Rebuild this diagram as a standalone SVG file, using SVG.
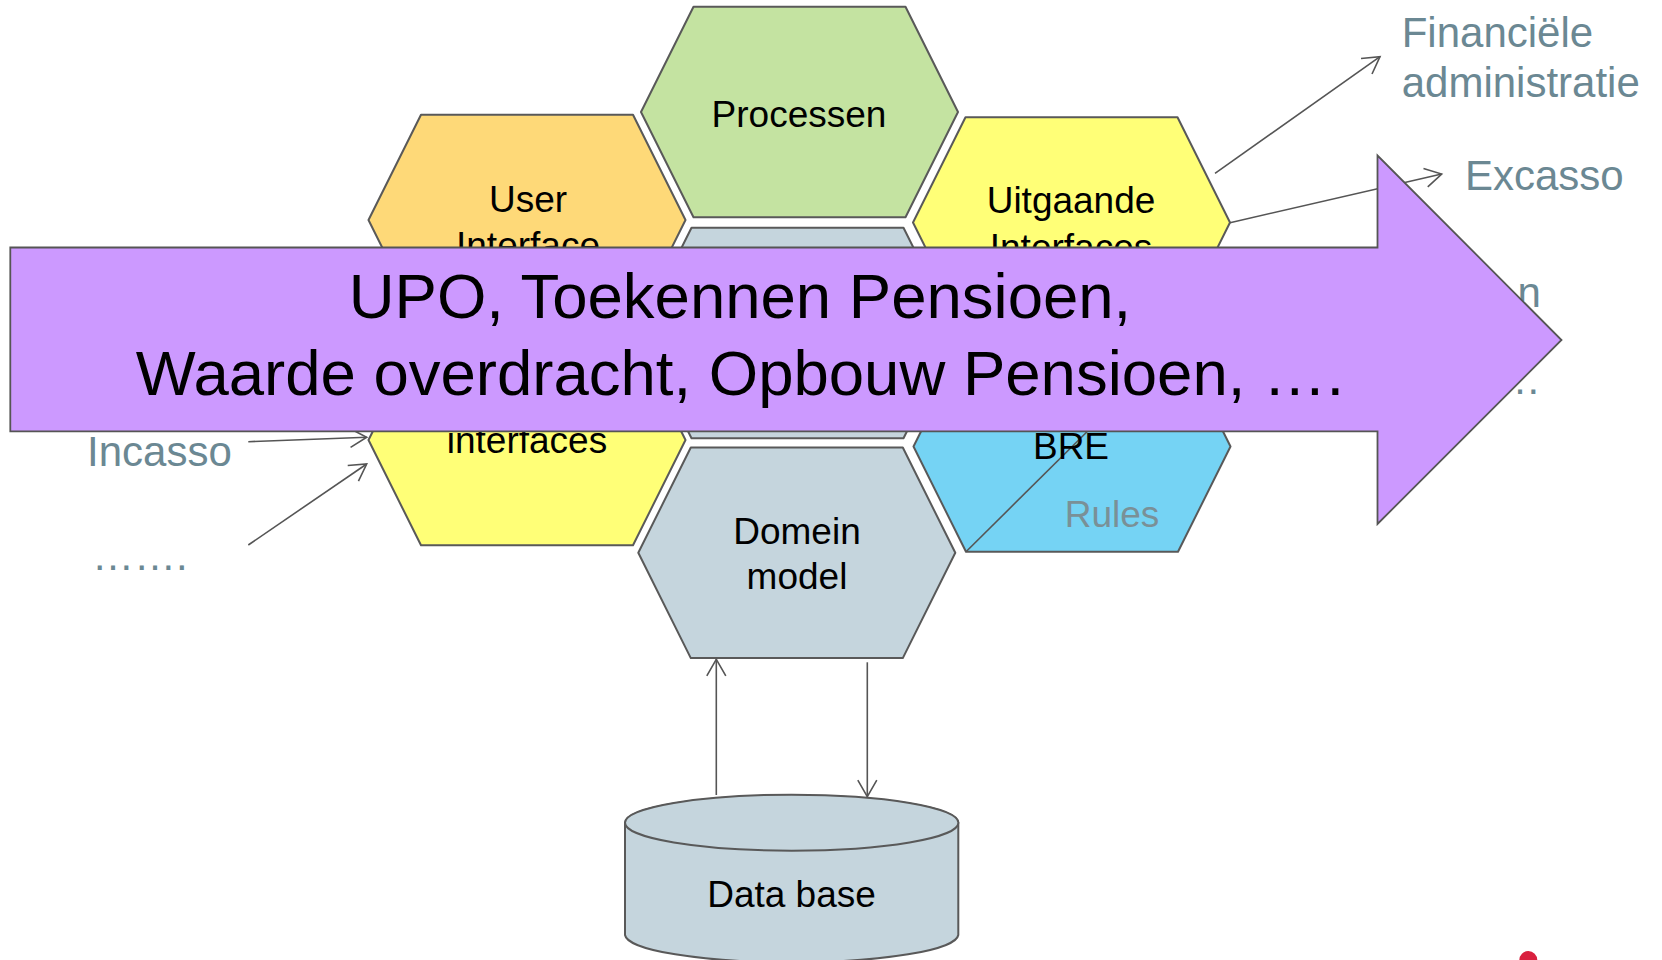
<svg xmlns="http://www.w3.org/2000/svg" width="1662" height="960" viewBox="0 0 1662 960">
<defs>
<style>
.hex{stroke:#595959;stroke-width:2;stroke-linejoin:round}
.lbl{font-family:"Liberation Sans",Arial,sans-serif;font-size:37px;fill:#000;text-anchor:middle}
.ext{font-family:"Liberation Sans",Arial,sans-serif;font-size:42px;fill:#6B8893}
.con{stroke:#555;stroke-width:1.6;fill:none}
.big{font-family:"Liberation Sans",Arial,sans-serif;font-size:63.5px;fill:#000;text-anchor:middle}
</style>
<marker id="ah" viewBox="0 0 20 20" refX="17" refY="10" markerWidth="20" markerHeight="20" markerUnits="userSpaceOnUse" orient="auto" overflow="visible">
<path d="M0.5,0.5 L17,10 L0.5,19.5" fill="none" stroke="#555" stroke-width="1.6"/>
</marker>
</defs>
<rect width="1662" height="960" fill="#fff"/>

<g id="processen">
<polygon class="hex" fill="#C4E3A1" points="693.5,6.7 905.5,6.7 958,112 905.5,217.3 693.5,217.3 641,112"/>
<text class="lbl" x="799" y="126.7">Processen</text>
</g>
<g id="center">
<polygon class="hex" fill="#C5D5DD" points="691.5,227.7 903.5,227.7 956,333 903.5,438.3 691.5,438.3 639,333"/>
</g>
<g id="domein">
<polygon class="hex" fill="#C5D5DD" points="690.8,447.5 902.8,447.5 955.3,552.8 902.8,658.1 690.8,658.1 638.3,552.8"/>
<text class="lbl" x="797" y="543.5">Domein</text>
<text class="lbl" x="797" y="589">model</text>
</g>
<g id="userinterface">
<polygon class="hex" fill="#FED978" points="421,114.7 633,114.7 685.5,220 633,325.3 421,325.3 368.5,220"/>
<text class="lbl" x="528" y="211.7">User</text>
<text class="lbl" x="528" y="258">Interface</text>
</g>
<g id="inkomende">
<polygon class="hex" fill="#FFFF77" points="421,334.7 633,334.7 685.5,440 633,545.3 421,545.3 368.5,440"/>
<text class="lbl" x="527" y="453.3">interfaces</text>
</g>
<g id="uitgaande">
<polygon class="hex" fill="#FFFF77" points="965.5,117.2 1177.5,117.2 1230,222.5 1177.5,327.8 965.5,327.8 913,222.5"/>
<text class="lbl" x="1071" y="213.3">Uitgaande</text>
<text class="lbl" x="1071" y="259.6">Interfaces</text>
</g>
<g id="bre">
<polygon class="hex" fill="#75D3F4" points="966,341.2 1178,341.2 1230.5,446.5 1178,551.8 966,551.8 913.5,446.5"/>
<line class="con" x1="966" y1="551.8" x2="1110" y2="409"/>
<text class="lbl" x="1071" y="459.3">BRE</text>
<text class="lbl" x="1112" y="526.7" fill="#7A9097" style="fill:#7A9097">Rules</text>
</g>
<g id="database">
<path d="M625,822.7 A166.7,28 0 0,1 958.3,822.7 L958.3,935 A166.7,28 0 0,1 625,935 Z" fill="#C5D5DD" stroke="#595959" stroke-width="2"/>
<ellipse cx="791.7" cy="822.7" rx="166.7" ry="28" fill="#C5D5DD" stroke="#595959" stroke-width="2"/>
<text class="lbl" x="791.5" y="906.7">Data base</text>
</g>

<g id="externals">
<text class="ext" x="1401.7" y="46.7">Financiële</text>
<text class="ext" x="1401.7" y="96.7">administratie</text>
<text class="ext" x="1465" y="190">Excasso</text>
<text class="ext" x="1517.5" y="306.7">n</text>
<text class="ext" x="1541" y="394" text-anchor="end">……</text>
<text class="ext" x="87" y="466">Incasso</text>
<text class="ext" x="92" y="570">…….</text>
</g>

<g id="connectors">
<line class="con" x1="1215" y1="173.3" x2="1380" y2="56.7" marker-end="url(#ah)"/>
<line class="con" x1="1230" y1="222.7" x2="1441.7" y2="174" marker-end="url(#ah)"/>
<line class="con" x1="248.3" y1="441.7" x2="366.7" y2="437.3" marker-end="url(#ah)"/>
<line class="con" x1="248.3" y1="545" x2="366.7" y2="464" marker-end="url(#ah)"/>
<line class="con" x1="716.3" y1="795" x2="716.3" y2="659.3" marker-end="url(#ah)"/>
<line class="con" x1="867.3" y1="662.3" x2="867.3" y2="796.7" marker-end="url(#ah)"/>
</g>

<g id="bigarrow">
<polygon points="10.3,247.5 1377.5,247.5 1377.5,155.5 1561.5,340 1377.5,524 1377.5,431.3 10.3,431.3" fill="#CC99FF" stroke="#555" stroke-width="1.8" stroke-linejoin="miter"/>
<text class="big" x="740" y="318.3">UPO, Toekennen Pensioen,</text>
<text class="big" x="740" y="395">Waarde overdracht, Opbouw Pensioen, ….</text>
</g>

<g id="logo">
<circle cx="1528.3" cy="960" r="9" fill="#D9203F"/>
</g>
</svg>
